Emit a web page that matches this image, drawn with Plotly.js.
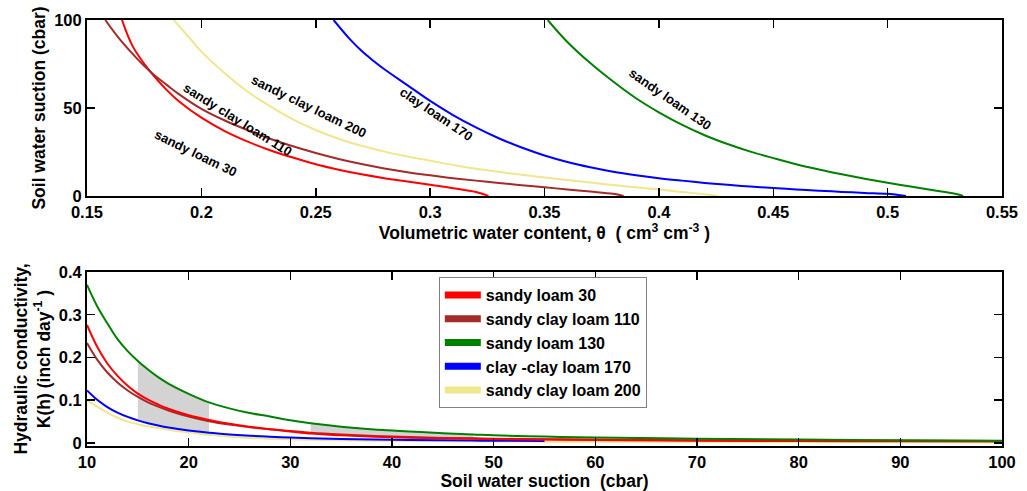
<!DOCTYPE html>
<html>
<head>
<meta charset="utf-8">
<script src="https://cdn.plot.ly/plotly-3.0.1.min.js"></script>
<style>html,body{margin:0;padding:0;background:#fff;}#chart{width:1027px;height:491px;}</style>
</head>
<body>
<div id="chart"></div>
<script>
// ---------- Top panel: retention curves (theta vs suction) ----------
const seriesNames = ["sandy loam 30", "sandy clay loam 110", "sandy loam 130", "clay -clay loam 170", "sandy clay loam 200"];
const seriesColors = ["#FF0000", "#A52A2A", "#008000", "#0000FF", "#F0E68C"];

const thetaSL30 = [0.1653, 0.170, 0.1777, 0.185, 0.190, 0.200, 0.210, 0.220, 0.230, 0.240, 0.250, 0.260, 0.270, 0.280, 0.290, 0.300, 0.310, 0.320, 0.3255];
const suctionSL30 = [100, 85, 70.6, 60, 54, 44.5, 37, 31, 26, 21.8, 18, 14.9, 12.3, 10.1, 8.2, 6.3, 4.4, 2.2, 0];

const thetaSCL110 = [0.158, 0.165, 0.1777, 0.185, 0.190, 0.200, 0.210, 0.220, 0.230, 0.240, 0.250, 0.260, 0.270, 0.280, 0.290, 0.300, 0.310, 0.320, 0.330, 0.340, 0.350, 0.360, 0.370, 0.380, 0.3846];
const suctionSCL110 = [100, 88, 70.6, 63, 58, 49.5, 43, 37.5, 32.5, 28.2, 24.4, 21, 18.1, 15.6, 13.5, 11.7, 10.1, 8.7, 7.4, 6.1, 4.9, 3.7, 2.5, 1.2, 0];

const thetaSL130 = [0.3514, 0.360, 0.370, 0.380, 0.390, 0.400, 0.410, 0.420, 0.430, 0.440, 0.450, 0.460, 0.470, 0.480, 0.490, 0.500, 0.510, 0.520, 0.530, 0.533];
const suctionSL130 = [100, 87.5, 75.5, 65, 55.5, 47.5, 40.5, 34.5, 29.5, 25.2, 21.5, 18, 15, 12.3, 9.8, 7.5, 5.3, 3.2, 1.1, 0];

const thetaCL170 = [0.2578, 0.265, 0.270, 0.275, 0.280, 0.290, 0.300, 0.310, 0.320, 0.330, 0.340, 0.350, 0.360, 0.370, 0.380, 0.390, 0.400, 0.410, 0.420, 0.430, 0.440, 0.450, 0.460, 0.470, 0.480, 0.490, 0.500, 0.508];
const suctionCL170 = [100, 89, 82.5, 77, 72, 63, 54, 46, 39, 32.8, 27.5, 23, 19.3, 16.3, 13.8, 11.8, 10.1, 8.7, 7.4, 6.3, 5.3, 4.5, 3.7, 3.0, 2.3, 1.7, 1.2, 0];

const thetaSCL200 = [0.1879, 0.195, 0.200, 0.210, 0.220, 0.230, 0.240, 0.250, 0.260, 0.270, 0.280, 0.290, 0.300, 0.310, 0.320, 0.330, 0.340, 0.350, 0.360, 0.370, 0.380, 0.390, 0.400, 0.410, 0.420, 0.426];
const suctionSCL200 = [100, 89.5, 82, 70, 59.5, 51, 43.5, 37.5, 32.5, 28.5, 25.2, 22.4, 20, 17.6, 15.5, 13.7, 12, 10.5, 9, 7.6, 6.2, 4.9, 3.6, 2.3, 1, 0];

const curveLabels = ["sandy loam 30", "sandy clay loam 110", "sandy clay loam 200", "clay loam 170", "sandy loam 130"];
const labelTheta = [0.1978, 0.2157, 0.2471, 0.3030, 0.4052];
const labelSuction = [24.4, 43.2, 50.9, 46.4, 55.1];
const labelAngle = [26, 32, 26, 34, 35];

// ---------- Bottom panel: hydraulic conductivity vs suction ----------
const suctionGrid = [10, 11, 12, 13, 14, 15, 16, 17, 18, 20, 22, 24, 26, 28, 30, 32, 35, 40, 45, 48, 50, 55, 60, 70, 80, 90, 100];
const kSL30   = [0.276, 0.225, 0.186, 0.157, 0.134, 0.1155, 0.1015, 0.090, 0.080, 0.065, 0.054, 0.045, 0.038, 0.032, 0.027, 0.022, 0.018, 0.0135, 0.011, 0.010, 0.0092, 0.008, 0.007, 0.0055, 0.0045, 0.004, 0.0035];
const kSCL110 = [0.234, 0.195, 0.165, 0.1417, 0.1228, 0.1077, 0.0952, 0.085, 0.0762, 0.062, 0.051, 0.043, 0.037, 0.032, 0.028, 0.024, 0.020, 0.015, 0.012, 0.011, 0.010, 0.009, 0.008, 0.0065, 0.0055, 0.005, 0.0045];
const kSL130  = [0.370, 0.320, 0.280, 0.243, 0.215, 0.192, 0.172, 0.154, 0.139, 0.115, 0.095, 0.081, 0.070, 0.062, 0.053, 0.046, 0.038, 0.029, 0.023, 0.020, 0.018, 0.015, 0.013, 0.010, 0.008, 0.0065, 0.0055];
const kCL170  = [0.123, 0.101, 0.084, 0.071, 0.061, 0.053, 0.0463, 0.0408, 0.0361, 0.029, 0.0238, 0.020, 0.017, 0.0147, 0.0128, 0.0113, 0.0095, 0.0075, 0.0062, 0.0056, 0.0053, 0.0047, null, null, null, null, null];
const kSCL200 = [0.100, 0.085, 0.071, 0.059, 0.050, 0.044, 0.039, 0.035, 0.031, 0.025, 0.019, 0.015, 0.012, 0.010, 0.0085, 0.0075, 0.0065, 0.005, 0.0042, 0.0038, 0.0036, 0.0032, 0.003, 0.0027, 0.0024, 0.0022, 0.002];

// shaded bands: [start, end] suction ranges, filled between the sandy loam 130 curve and a lower curve
const shadeRanges = [[15, 22], [32, 48]];
const shadeLower = [kCL170, kSL30];

const FONT = "Liberation Sans, Arial, Helvetica, sans-serif";

const topTheta = [thetaSL30, thetaSCL110, thetaSL130, thetaCL170, thetaSCL200];
const topSuction = [suctionSL30, suctionSCL110, suctionSL130, suctionCL170, suctionSCL200];
const bottomK = [kSL30, kSCL110, kSL130, kCL170, kSCL200];

const traces = [];
shadeRanges.forEach((rng, i) => {
  const idx = suctionGrid.map((h, j) => j).filter(j => suctionGrid[j] >= rng[0] && suctionGrid[j] <= rng[1]);
  const xs = idx.map(j => suctionGrid[j]).concat(idx.slice().reverse().map(j => suctionGrid[j]));
  const ys = idx.map(j => kSL130[j]).concat(idx.slice().reverse().map(j => shadeLower[i][j]));
  xs.push(xs[0]); ys.push(ys[0]);
  traces.push({x: xs, y: ys, xaxis: "x2", yaxis: "y2", type: "scatter", mode: "lines",
    fill: "toself", fillcolor: "#D3D3D3", line: {width: 0, color: "#D3D3D3"}, showlegend: false, hoverinfo: "skip"});
});

for (let i = 0; i < 5; i++) {
  traces.push({x: topTheta[i], y: topSuction[i], xaxis: "x", yaxis: "y", type: "scatter", mode: "lines",
    line: {color: seriesColors[i], width: 2, shape: "spline", smoothing: 1}, showlegend: false, name: seriesNames[i]});
}
[4, 3, 1, 0, 2].forEach(i => {
  traces.push({x: suctionGrid, y: bottomK[i], xaxis: "x2", yaxis: "y2", type: "scatter", mode: "lines",
    line: {color: seriesColors[i], width: 2, shape: "spline", smoothing: 1}, connectgaps: false, showlegend: false, name: seriesNames[i]});
});
for (let i = 0; i < 5; i++) {
  traces.push({x: [null], y: [null], xaxis: "x2", yaxis: "y2", type: "scatter", mode: "lines",
    line: {color: seriesColors[i], width: 7}, showlegend: true, name: seriesNames[i]});
}

const tickFont = {family: FONT, size: 16.5, color: "#000", weight: "bold"};
const titleFont = {family: FONT, size: 17.5, color: "#000", weight: "bold"};
const axisCommon = {
  showgrid: false, zeroline: false, showline: true, linecolor: "#000", linewidth: 2,
  mirror: "allticks", ticks: "inside", ticklen: 8, tickwidth: 1.5, tickcolor: "#000",
  tickfont: tickFont
};

const annotations = curveLabels.map((t, i) => ({
  text: t, x: labelTheta[i], y: labelSuction[i], xref: "x", yref: "y",
  showarrow: false, textangle: labelAngle[i],
  font: {family: FONT, size: 13, color: "#000", weight: "bold"}
}));

const layout = {
  width: 1027, height: 491,
  margin: {l: 87, r: 25, t: 20, b: 45},
  paper_bgcolor: "#fff", plot_bgcolor: "#fff",
  showlegend: true,
  legend: {x: 0.3845, y: 0.3967, xanchor: "left", yanchor: "top",
    bgcolor: "#fff", bordercolor: "#808080", borderwidth: 1,
    font: {family: FONT, size: 16, color: "#000", weight: "bold"},
    itemwidth: 36, tracegroupgap: 0},
  xaxis: Object.assign({}, axisCommon, {domain: [0, 1], anchor: "y", range: [0.15, 0.55],
    tickvals: [0.15, 0.2, 0.25, 0.3, 0.35, 0.4, 0.45, 0.5, 0.55], ticktext: ["0.15", "0.2", "0.25", "0.3", "0.35", "0.4", "0.45", "0.5", "0.55"],
    title: {text: "Volumetric water content, θ  ( cm<sup>3</sup> cm<sup>-3</sup> )", font: titleFont, standoff: 2}}),
  yaxis: Object.assign({}, axisCommon, {domain: [0.587, 1], anchor: "x", range: [0, 100],
    tickvals: [0, 50, 100],
    title: {text: "Soil water suction (cbar)", font: titleFont, standoff: 4}}),
  xaxis2: Object.assign({}, axisCommon, {domain: [0, 1], anchor: "y2", range: [10, 100],
    tickvals: [10, 20, 30, 40, 50, 60, 70, 80, 90, 100],
    title: {text: "Soil water suction  (cbar)", font: titleFont, standoff: 2}}),
  yaxis2: Object.assign({}, axisCommon, {domain: [0, 0.4085], anchor: "x2", range: [-0.007, 0.4],
    tickvals: [0, 0.1, 0.2, 0.3, 0.4], ticktext: ["0", "0.1", "0.2", "0.3", "0.4"],
    title: {text: "Hydraulic conductivity,<br>K(h) (inch day<sup>-1</sup> )", font: titleFont, standoff: 4}}),
  annotations: annotations
};

Plotly.newPlot("chart", traces, layout, {displayModeBar: false, staticPlot: true});
</script>
</body>
</html>
